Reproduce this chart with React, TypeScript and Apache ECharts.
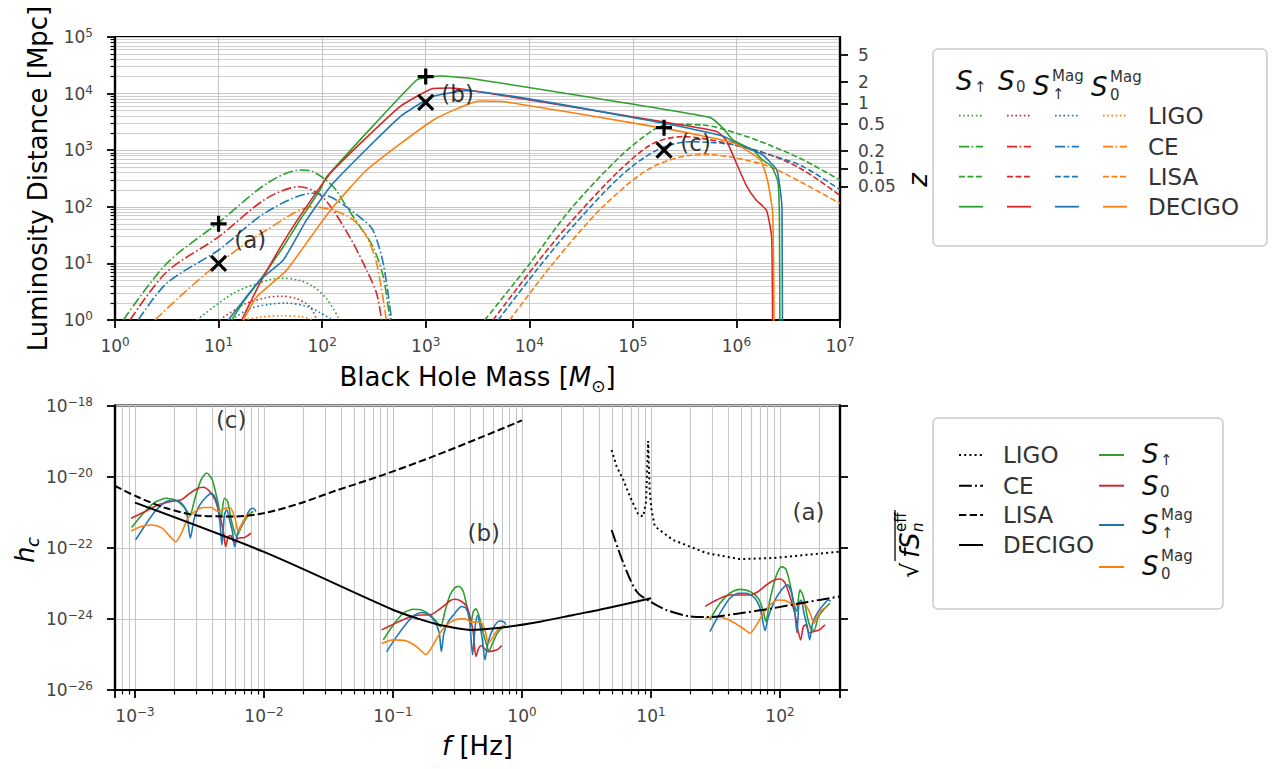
import React, { useEffect, useRef } from 'react';
import * as echarts from 'echarts';

const FONT = 'DejaVu Sans';
const TICK_COLOR = '#444';
const GREEN = '#2ca02c';
const RED = '#d62728';
const BLUE = '#1f77b4';
const ORANGE = '#ff7f0e';

// ===== Top panel data: [log10(M / Msun), log10(D_L / Mpc)] =====
const topLigoUp = [[0.79, 0], [1.14, 0.47], [1.4, 0.66], [1.59, 0.74], [1.78, 0.7], [1.915, 0.59], [2.05, 0.36], [2.17, 0]];
const topLigoZero = [[1.01, 0], [1.25, 0.28], [1.45, 0.39], [1.6, 0.42], [1.75, 0.38], [1.88, 0.24], [1.95, 0]];
const topLigoUpMag = [[1.126, 0], [1.3, 0.2], [1.5, 0.28], [1.65, 0.3], [1.85, 0.24], [1.98, 0.13], [2.1, 0]];
const topLigoZeroMag = [[1.24, 0], [1.4, 0.05], [1.6, 0.075], [1.8, 0.06], [1.915, 0]];

const topCeUp = [[0.08, 0], [0.5, 1.0], [1.0, 1.72], [1.464, 2.41], [1.786, 2.65], [1.915, 2.62], [2.107, 2.355], [2.236, 2.0], [2.365, 1.65], [2.49, 1.295], [2.59, 0.765], [2.654, 0]];
const topCeZero = [[0.145, 0], [0.5, 0.85], [1.0, 1.47], [1.464, 2.15], [1.786, 2.355], [1.979, 2.21], [2.107, 1.94], [2.3, 1.355], [2.43, 0.88], [2.526, 0.47], [2.574, 0]];
const topCeUpMag = [[0.225, 0], [0.5, 0.65], [1.0, 1.237], [1.464, 1.91], [1.915, 2.24], [2.107, 2.15], [2.397, 1.77], [2.49, 1.59], [2.59, 1.0], [2.67, 0]];
const topCeZeroMag = [[0.386, 0], [0.66, 0.47], [1.0, 1.0], [1.464, 1.59], [1.915, 2.0], [2.107, 1.94], [2.3, 1.77], [2.43, 1.47], [2.526, 1.0], [2.62, 0]];

const topLisaUp = [[3.57, 0], [4.006, 1.0], [4.39, 1.94], [4.875, 2.885], [5.196, 3.357], [5.357, 3.457], [5.68, 3.445], [6.0, 3.3], [6.32, 3.09], [6.644, 2.83], [7.0, 2.47]];
const topLisaZero = [[3.65, 0], [4.07, 1.0], [4.39, 1.71], [4.875, 2.65], [5.196, 3.12], [5.486, 3.24], [5.84, 3.15], [6.32, 2.92], [6.644, 2.65], [7.0, 2.2]];
const topLisaUpMag = [[3.7, 0], [4.07, 0.88], [4.39, 1.59], [4.875, 2.53], [5.23, 3.0], [5.55, 3.15], [6.0, 3.09], [6.32, 2.92], [6.644, 2.71], [7.0, 2.3]];
const topLisaZeroMag = [[3.81, 0], [4.23, 1.0], [4.71, 2.0], [5.196, 2.71], [5.68, 2.93], [6.0, 2.86], [6.32, 2.71], [6.644, 2.415], [7.0, 2.06]];

const topDecigoUp = [[1.126, 0], [1.25, 0.35], [1.4, 0.707], [1.625, 1.295], [1.786, 1.767], [1.979, 2.297], [2.043, 2.53], [2.912, 4.24], [3.07, 4.3], [3.14, 4.31], [3.427, 4.27], [5.743, 3.58], [5.87, 3.39], [5.965, 3.18], [6.16, 3.0], [6.25, 2.83], [6.34, 2.71], [6.4, 2.45], [6.415, 1.8], [6.42, -0.5]];
const topDecigoZero = [[1.223, 0], [1.4, 0.65], [1.657, 1.47], [1.915, 2.18], [2.107, 2.65], [2.751, 3.77], [3.07, 4.09], [3.23, 4.1], [3.43, 4.06], [5.29, 3.5], [5.81, 3.33], [5.9, 3.18], [6.0, 2.77], [6.1, 2.36], [6.19, 2.12], [6.29, 1.94], [6.34, 1.47], [6.35, -0.5]];
const topDecigoUpMag = [[1.094, 0], [1.4, 0.707], [1.625, 1.06], [1.85, 1.77], [2.107, 2.42], [2.751, 3.59], [3.07, 3.95], [3.39, 4.05], [5.29, 3.48], [5.87, 3.25], [6.0, 3.12], [6.25, 2.92], [6.39, 2.65], [6.43, 2.2], [6.44, 1.94], [6.445, -0.5]];
const topDecigoZeroMag = [[1.24, 0], [1.368, 0.41], [1.657, 0.88], [1.915, 1.53], [2.107, 2.0], [2.43, 2.65], [3.07, 3.53], [3.52, 3.87], [3.75, 3.86], [5.29, 3.39], [5.97, 3.13], [6.23, 2.83], [6.3, 2.47], [6.35, 1.89], [6.365, -0.5]];

// markers (M in Msun, D in Mpc)
const plusMass = [10, 1000, 2e5];
const plusDist = [50, 2e4, 2500];
const crossMass = [10, 1000, 2e5];
const crossDist = [10, 7000, 1000];
const topAnnotText = ['(a)', '(b)', '(c)'];
const topAnnotMass = [14, 1400, 2.84e5];
const topAnnotDist = [26, 1.0e4, 1340];

// redshift axis
const zTickLabels = ['5', '2', '1', '0.5', '0.2', '0.1', '0.05'];
const zTickDistMpc = [47800, 15900, 6700, 2900, 980, 475, 230];

// ===== Bottom panel data: [log10(f / Hz), log10(h)] =====
const noiseLisa = [[-3.155, -20.26], [-2.987, -20.56], [-2.755, -20.89], [-2.496, -21.1], [-2.238, -21.12], [-2.005, -21.03], [-1.72, -20.75], [-1.463, -20.42], [-1.075, -19.95], [-0.687, -19.43], [-0.3, -18.87], [0.0, -18.42]];
const noiseDecigo = [[-3.0, -20.73], [-2.005, -22.11], [-0.997, -23.75], [-0.8, -24.0], [-0.636, -24.17], [-0.4, -24.31], [-0.15, -24.24], [0.14, -24.08], [0.398, -23.89], [0.656, -23.7], [1.0, -23.42]];
const noiseCe = [[0.695, -21.5], [0.786, -22.43], [0.889, -23.23], [0.992, -23.51], [1.12, -23.75], [1.3, -23.93], [1.43, -23.95], [1.69, -23.84], [1.946, -23.7], [2.205, -23.53], [2.465, -23.37]];
const noiseLigo = [[0.695, -19.25], [0.734, -19.72], [0.786, -20.09], [0.837, -20.56], [0.902, -21.07], [0.94, -21.12], [0.962, -20.7], [0.978, -19.0], [0.99, -20.4], [1.005, -20.95], [1.03, -21.4], [1.17, -21.78], [1.43, -22.15], [1.69, -22.32], [1.946, -22.29], [2.205, -22.2], [2.465, -22.11]];

const waveCUp = [[-3.026, -21.43], [-2.935, -21.03], [-2.845, -20.72], [-2.755, -20.61], [-2.677, -20.68], [-2.612, -20.89], [-2.574, -21.08], [-2.535, -20.61], [-2.488, -20.09], [-2.444, -19.9], [-2.401, -20.09], [-2.359, -20.7], [-2.333, -21.17], [-2.307, -20.61], [-2.282, -20.7], [-2.251, -21.26], [-2.212, -21.68], [-2.173, -21.4], [-2.121, -21.08], [-2.083, -20.98]];
const waveCZero = [[-3.03, -21.17], [-2.92, -20.98], [-2.82, -20.79], [-2.72, -20.7], [-2.64, -20.65], [-2.59, -20.51], [-2.52, -20.34], [-2.47, -20.3], [-2.42, -20.42], [-2.38, -20.65], [-2.35, -20.98], [-2.315, -21.54], [-2.297, -21.97], [-2.276, -21.68], [-2.256, -21.66], [-2.233, -21.84], [-2.2, -21.73], [-2.15, -21.71], [-2.1, -21.59]];
const waveCUpMag = [[-2.995, -21.78], [-2.92, -21.36], [-2.845, -20.98], [-2.767, -20.72], [-2.703, -20.65], [-2.638, -20.75], [-2.599, -21.03], [-2.571, -21.73], [-2.54, -21.17], [-2.496, -20.79], [-2.444, -20.56], [-2.406, -20.47], [-2.367, -20.7], [-2.341, -21.31], [-2.326, -21.92], [-2.307, -21.08], [-2.289, -20.93], [-2.264, -21.26], [-2.245, -21.54], [-2.227, -21.97], [-2.199, -21.54], [-2.147, -21.17], [-2.109, -20.93], [-2.083, -20.89], [-2.062, -20.98]];
const waveCZeroMag = [[-3.03, -21.53], [-2.95, -21.4], [-2.87, -21.36], [-2.79, -21.45], [-2.73, -21.68], [-2.685, -21.83], [-2.64, -21.59], [-2.59, -21.17], [-2.535, -20.98], [-2.47, -20.87], [-2.41, -20.87], [-2.354, -20.98], [-2.302, -20.89], [-2.264, -20.87], [-2.225, -21.17], [-2.199, -21.54], [-2.173, -21.36], [-2.134, -21.09], [-2.096, -21.03]];

const waveBUp = [[-1.075, -24.59], [-0.997, -24.17], [-0.92, -23.84], [-0.842, -23.73], [-0.778, -23.75], [-0.713, -23.89], [-0.662, -24.08], [-0.631, -24.22], [-0.597, -23.79], [-0.558, -23.33], [-0.52, -23.12], [-0.486, -23.09], [-0.455, -23.23], [-0.424, -23.7], [-0.398, -24.17], [-0.377, -23.79], [-0.357, -23.72], [-0.331, -23.94], [-0.3, -24.4], [-0.274, -24.73], [-0.256, -24.9], [-0.228, -24.69], [-0.191, -24.4], [-0.158, -24.26], [-0.132, -24.19]];
const waveBZero = [[-1.088, -24.31], [-0.997, -24.15], [-0.894, -23.98], [-0.791, -23.89], [-0.713, -23.89], [-0.662, -23.79], [-0.61, -23.65], [-0.558, -23.49], [-0.52, -23.45], [-0.468, -23.51], [-0.429, -23.65], [-0.403, -23.94], [-0.377, -24.4], [-0.357, -25.06], [-0.336, -24.83], [-0.313, -24.75], [-0.287, -24.85], [-0.261, -24.92], [-0.222, -24.9], [-0.184, -24.85], [-0.158, -24.75]];
const waveBUpMag = [[-1.049, -24.92], [-0.972, -24.5], [-0.894, -24.12], [-0.83, -23.89], [-0.778, -23.82], [-0.726, -23.87], [-0.675, -24.08], [-0.641, -24.4], [-0.625, -24.92], [-0.605, -24.4], [-0.571, -24.08], [-0.52, -23.84], [-0.468, -23.65], [-0.434, -23.7], [-0.408, -23.98], [-0.393, -24.64], [-0.383, -25.01], [-0.364, -24.26], [-0.346, -23.91], [-0.326, -24.17], [-0.305, -24.64], [-0.287, -25.15], [-0.261, -24.64], [-0.222, -24.26], [-0.176, -24.06], [-0.14, -24.08], [-0.124, -24.17]];
const waveBZeroMag = [[-1.088, -24.69], [-0.997, -24.59], [-0.907, -24.61], [-0.817, -24.78], [-0.744, -25.0], [-0.688, -24.73], [-0.636, -24.4], [-0.584, -24.17], [-0.52, -24.03], [-0.442, -24.0], [-0.39, -24.09], [-0.326, -24.08], [-0.287, -24.31], [-0.261, -24.7], [-0.23, -24.54], [-0.196, -24.34], [-0.165, -24.24], [-0.14, -24.19]];

const waveAUp = [[1.457, -24.03], [1.535, -23.56], [1.612, -23.28], [1.69, -23.17], [1.767, -23.23], [1.832, -23.42], [1.871, -23.79], [1.891, -24.08], [1.922, -23.47], [1.969, -22.81], [2.013, -22.53], [2.046, -22.6], [2.077, -23.0], [2.108, -23.56], [2.129, -23.79], [2.155, -23.18], [2.181, -23.37], [2.212, -23.94], [2.238, -24.26], [2.264, -24.33], [2.297, -23.94], [2.341, -23.73], [2.388, -23.56]];
const waveAZero = [[1.419, -23.65], [1.509, -23.47], [1.612, -23.33], [1.69, -23.33], [1.767, -23.33], [1.832, -23.23], [1.897, -23.04], [1.961, -22.9], [2.005, -22.88], [2.041, -23.0], [2.077, -23.37], [2.114, -23.84], [2.14, -24.33], [2.16, -24.59], [2.181, -24.22], [2.201, -24.17], [2.227, -24.39], [2.258, -24.36], [2.305, -24.31], [2.349, -24.17]];
const waveAUpMag = [[1.457, -24.36], [1.535, -23.84], [1.612, -23.42], [1.677, -23.28], [1.742, -23.28], [1.806, -23.42], [1.85, -23.75], [1.884, -24.33], [1.91, -23.94], [1.961, -23.47], [2.013, -23.18], [2.057, -23.04], [2.09, -23.28], [2.116, -23.84], [2.132, -24.4], [2.147, -23.56], [2.165, -23.47], [2.186, -23.84], [2.212, -24.22], [2.23, -24.59], [2.253, -24.12], [2.297, -23.79], [2.336, -23.61], [2.375, -23.47], [2.393, -23.51]];
const waveAZeroMag = [[1.419, -23.98], [1.496, -23.94], [1.574, -23.98], [1.651, -24.12], [1.729, -24.31], [1.767, -24.4], [1.819, -24.17], [1.871, -23.84], [1.922, -23.61], [1.987, -23.47], [2.039, -23.48], [2.09, -23.58], [2.129, -23.61], [2.168, -23.56], [2.207, -23.65], [2.238, -23.89], [2.264, -24.12], [2.289, -23.94], [2.323, -23.75], [2.362, -23.67]];

const bottomAnnotText = ['(a)', '(b)', '(c)'];
const bottomAnnotFreq = [124, 0.375, 4.2e-3];
const bottomAnnotLogH = [-20.99, -21.58, -18.4];

const legendDetectors = ['LIGO', 'CE', 'LISA', 'DECIGO'];

// ===== helpers =====
const pow10 = (v: number) => Math.pow(10, v);
const bothLog = (pts: number[][]) => pts.map((p) => [pow10(p[0]), pow10(p[1])]);
const xLogOnly = (pts: number[][]) => pts.map((p) => [pow10(p[0]), p[1]]);

const DOT_C = [1.6, 2.6];
const DASHDOT_C = [10, 2.6, 1.6, 2.6];
const DASH_C = [5.9, 2.6];
const DOT_K = [2, 3.2];
const DASHDOT_K = [12.8, 3.2, 2, 3.2];
const DASH_K = [7.4, 3.2];

function lineSeries(data: number[][], xi: number, yi: number, color: string, type: any, width: number, smooth: number | boolean, z = 2) {
  return {
    type: 'line', xAxisIndex: xi, yAxisIndex: yi, data, symbol: 'none', showSymbol: false,
    smooth, lineStyle: { color, width, type }, z, silent: true, clip: true,
  };
}

function powLabel(v: number) {
  const e = Math.log10(v);
  const r = Math.round(e);
  if (Math.abs(e - r) > 1e-6) return '';
  return '{b|10}{s|' + (r < 0 ? '\u2212' + -r : String(r)) + '}';
}
function expLabel(v: number) {
  const r = Math.round(v);
  return '{b|10}{s|' + (r < 0 ? '\u2212' + -r : String(r)) + '}';
}

const tickRich = {
  b: { fontSize: 17, lineHeight: 20, fontFamily: FONT, color: TICK_COLOR, verticalAlign: 'middle' },
  s: { fontSize: 12, lineHeight: 20, fontFamily: FONT, color: TICK_COLOR, verticalAlign: 'top' },
};

const axisLineK = { show: true, lineStyle: { color: '#000', width: 2.2 } };
const majorTick = { show: true, length: 8, lineStyle: { color: '#000', width: 1.8 } };
const minorTickS = { show: true, splitNumber: 9, length: 4.5, lineStyle: { color: '#000', width: 1.2 } };
const gridLine = { show: true, lineStyle: { color: '#c6c6c6', width: 1.1 } };

function gText(x: number, y: number, text: string, size: number, o: any = {}) {
  const align = o.align ?? 'left';
  return {
    type: 'text', x, y, z: 100, silent: true,
    style: {
      text, fontSize: size, fontFamily: FONT,
      fontStyle: o.italic ? 'italic' : 'normal',
      fill: o.fill ?? '#000',
      textAlign: align, align,
      textVerticalAlign: 'middle', verticalAlign: 'middle',
    },
  };
}
function gLine(x1: number, x2: number, y: number, color: string, dash: number[] | null, w = 2) {
  return {
    type: 'line', z: 100, silent: true,
    shape: { x1, y1: y, x2, y2: y },
    style: { stroke: color, lineWidth: w, lineDash: dash || undefined },
  };
}
function sLabel(x: number, cy: number, sub: string, mag: boolean) {
  const out: any[] = [gText(x, cy, 'S', 26, { italic: true, fill: '#111' })];
  if (mag) {
    out.push(gText(x + 19, cy - 10, 'Mag', 15, { fill: '#333' }));
    out.push(gText(x + 19, cy + 8, sub, 15, { fill: '#333' }));
  } else {
    out.push(gText(x + 18, cy + 6, sub, 15, { fill: '#333' }));
  }
  return out;
}

function buildOption() {
  const top: any[] = [];
  const topSets: [number[][], string, any][] = [
    [topLigoUp, GREEN, DOT_C], [topLigoZero, RED, DOT_C], [topLigoUpMag, BLUE, DOT_C], [topLigoZeroMag, ORANGE, DOT_C],
    [topCeUp, GREEN, DASHDOT_C], [topCeZero, RED, DASHDOT_C], [topCeUpMag, BLUE, DASHDOT_C], [topCeZeroMag, ORANGE, DASHDOT_C],
    [topLisaUp, GREEN, DASH_C], [topLisaZero, RED, DASH_C], [topLisaUpMag, BLUE, DASH_C], [topLisaZeroMag, ORANGE, DASH_C],
  ];
  topSets.forEach(([d, c, t]) => top.push(lineSeries(bothLog(d), 0, 0, c, t, 1.6, 0.3)));
  [[topDecigoUp, GREEN], [topDecigoZero, RED], [topDecigoUpMag, BLUE], [topDecigoZeroMag, ORANGE]].forEach(([d, c]: any) =>
    top.push(lineSeries(bothLog(d), 0, 0, c, 'solid', 1.6, 0.15)));

  top.push({
    type: 'scatter', xAxisIndex: 0, yAxisIndex: 0, z: 6, silent: true,
    symbol: 'path://M0,-10L0,10M-10,0L10,0', symbolSize: 16,
    itemStyle: { color: '#000', borderColor: '#000', borderWidth: 3.2, opacity: 1 },
    data: plusMass.map((m, i) => [m, plusDist[i]]),
  });
  top.push({
    type: 'scatter', xAxisIndex: 0, yAxisIndex: 0, z: 6, silent: true,
    symbol: 'path://M-10,-10L10,10M-10,10L10,-10', symbolSize: 15,
    itemStyle: { color: '#000', borderColor: '#000', borderWidth: 3.2, opacity: 1 },
    data: crossMass.map((m, i) => [m, crossDist[i]]),
  });
  top.push({
    type: 'scatter', xAxisIndex: 0, yAxisIndex: 0, z: 7, silent: true, symbolSize: 1,
    itemStyle: { color: 'rgba(0,0,0,0)' },
    label: { show: true, position: 'right', distance: 0, formatter: '{b}', fontSize: 23, fontFamily: FONT, color: '#000', align: 'left', verticalAlign: 'middle' },
    data: topAnnotText.map((t, i) => ({ name: t, value: [topAnnotMass[i], topAnnotDist[i]] })),
  });

  const bot: any[] = [];
  const waveSets: [number[][], string][] = [
    [waveCUp, GREEN], [waveCZero, RED], [waveCUpMag, BLUE], [waveCZeroMag, ORANGE],
    [waveBUp, GREEN], [waveBZero, RED], [waveBUpMag, BLUE], [waveBZeroMag, ORANGE],
    [waveAUp, GREEN], [waveAZero, RED], [waveAUpMag, BLUE], [waveAZeroMag, ORANGE],
  ];
  waveSets.forEach(([d, c]) => bot.push(lineSeries(xLogOnly(d), 1, 2, c, 'solid', 1.6, 0.25, 2)));
  bot.push(lineSeries(xLogOnly(noiseLigo), 1, 2, '#000', DOT_K, 2, false, 4));
  bot.push(lineSeries(xLogOnly(noiseCe), 1, 2, '#000', DASHDOT_K, 2, 0.3, 4));
  bot.push(lineSeries(xLogOnly(noiseLisa), 1, 2, '#000', DASH_K, 2, 0.3, 4));
  bot.push(lineSeries(xLogOnly(noiseDecigo), 1, 2, '#000', 'solid', 2, 0.3, 4));
  bot.push({
    type: 'scatter', xAxisIndex: 1, yAxisIndex: 2, z: 7, silent: true, symbolSize: 1,
    itemStyle: { color: 'rgba(0,0,0,0)' },
    label: { show: true, position: 'right', distance: 0, formatter: '{b}', fontSize: 23, fontFamily: FONT, color: '#000', align: 'left', verticalAlign: 'middle' },
    data: bottomAnnotText.map((t, i) => ({ name: t, value: [bottomAnnotFreq[i], bottomAnnotLogH[i]] })),
  });

  const zLog = zTickDistMpc.map((d) => Math.log10(d));

  // ---- graphics: legends and special axis titles
  const g: any[] = [];
  // top legend
  g.push({ type: 'rect', z: 99, silent: true, shape: { x: 933, y: 49, width: 334, height: 197, r: 5 }, style: { fill: '#fff', stroke: '#cccccc', lineWidth: 1.6 } });
  g.push(...sLabel(956, 81, '\u2191', false));
  g.push(...sLabel(998, 81, '0', false));
  g.push(...sLabel(1033, 86, '\u2191', true));
  g.push(...sLabel(1091, 87, '0', true));
  const topRowsY = [115.7, 146.7, 176.7, 206.7];
  const topDash = [DOT_C, DASHDOT_C, DASH_C, null];
  const colXs = [959, 1007, 1055, 1103];
  const cols = [GREEN, RED, BLUE, ORANGE];
  topRowsY.forEach((y, r) => {
    colXs.forEach((x, c) => g.push(gLine(x, x + 24, y, cols[c], topDash[r], 1.8)));
    g.push(gText(1148, y, legendDetectors[r], 23, { fill: '#333' }));
  });
  // bottom legend
  g.push({ type: 'rect', z: 99, silent: true, shape: { x: 933, y: 418, width: 290, height: 191, r: 5 }, style: { fill: '#fff', stroke: '#cccccc', lineWidth: 1.6 } });
  const botRowsY = [455, 485.7, 515, 545];
  const botDash = [DOT_K, DASHDOT_K, DASH_K, null];
  botRowsY.forEach((y, r) => {
    g.push(gLine(959, 983, y, '#000', botDash[r], 2));
    g.push(gText(1003, y, legendDetectors[r], 23, { fill: '#333' }));
  });
  const colRowsY = [455, 485.7, 525, 567];
  colRowsY.forEach((y, i) => g.push(gLine(1099, 1124, y, cols[i], null, 2)));
  g.push(...sLabel(1142, 454, '\u2191', false));
  g.push(...sLabel(1142, 486, '0', false));
  g.push(...sLabel(1142, 525, '\u2191', true));
  g.push(...sLabel(1142, 566, '0', true));

  // right axis title z
  g.push({ type: 'text', x: 918, y: 180, rotation: Math.PI / 2, z: 100, silent: true,
    style: { text: 'z', fontSize: 26, fontStyle: 'italic', fontFamily: FONT, fill: '#000', textAlign: 'center', align: 'center', textVerticalAlign: 'middle', verticalAlign: 'middle' } });
  // left bottom title h_c
  g.push({ type: 'group', x: 25, y: 563, rotation: Math.PI / 2, children: [
    gText(0, 0, 'h', 26, { italic: true }),
    gText(16, 7, 'c', 18, { italic: true }),
  ] });
  // right bottom title sqrt(f S_n^eff)
  g.push({ type: 'group', x: 910, y: 578, rotation: Math.PI / 2, children: [
    gText(0, 0, '\u221a', 24, {}),
    { type: 'line', silent: true, z: 100, shape: { x1: 17, y1: -15, x2: 68, y2: -15 }, style: { stroke: '#000', lineWidth: 1.3 } },
    gText(20, 0, 'f', 26, { italic: true }),
    gText(29, 0, 'S', 26, { italic: true }),
    gText(46, -9, 'eff', 15, {}),
    gText(46, 8, 'n', 15, { italic: true }),
  ] });

  return {
    animation: false,
    backgroundColor: '#fff',
    textStyle: { fontFamily: FONT },
    grid: [
      { left: 115, top: 37, width: 725, height: 283, show: true, borderColor: '#000', borderWidth: 2.2, backgroundColor: 'transparent', containLabel: false, outerBoundsMode: 'none' },
      { left: 115, top: 405.5, width: 725, height: 284.5, show: true, borderColor: '#000', borderWidth: 2.2, backgroundColor: 'transparent', containLabel: false, outerBoundsMode: 'none' },
    ],
    xAxis: [
      {
        type: 'log', gridIndex: 0, min: 1, max: 1e7, splitNumber: 7, logBase: 10,
        name: 'Black Hole Mass [{it|M}{sub|\u2299}]', nameLocation: 'middle', nameGap: 40,
        nameTextStyle: { fontSize: 26, fontFamily: FONT, color: '#000', lineHeight: 34,
          rich: { it: { fontSize: 26, fontStyle: 'italic', fontFamily: FONT, color: '#000', lineHeight: 34 }, sub: { fontSize: 17, fontFamily: FONT, color: '#000', lineHeight: 34, verticalAlign: 'bottom' } } },
        axisLine: axisLineK, axisTick: majorTick, minorTick: { show: false },
        axisLabel: { formatter: powLabel, margin: 16, rich: tickRich },
        splitLine: gridLine, minorSplitLine: { show: false },
      },
      {
        type: 'log', gridIndex: 1, min: 7e-4, max: 292, splitNumber: 6, logBase: 10,
        name: '{it|f} [Hz]', nameLocation: 'middle', nameGap: 39,
        nameTextStyle: { fontSize: 26, fontFamily: FONT, color: '#000', lineHeight: 34,
          rich: { it: { fontSize: 26, fontStyle: 'italic', fontFamily: FONT, color: '#000', lineHeight: 34 } } },
        axisLine: axisLineK, axisTick: majorTick, minorTick: minorTickS,
        axisLabel: { formatter: powLabel, margin: 16, rich: tickRich, showMinLabel: true, showMaxLabel: true },
        splitLine: gridLine, minorSplitLine: { show: true, lineStyle: { color: '#c6c6c6', width: 1.1 } },
      },
    ],
    yAxis: [
      {
        type: 'log', gridIndex: 0, min: 1, max: 1e5, splitNumber: 5, logBase: 10, position: 'left',
        name: 'Luminosity Distance [Mpc]', nameLocation: 'middle', nameGap: 57,
        nameTextStyle: { fontSize: 26, fontFamily: FONT, color: '#000', lineHeight: 30 },
        axisLine: axisLineK, axisTick: majorTick, minorTick: minorTickS,
        axisLabel: { formatter: powLabel, margin: 22, rich: tickRich },
        splitLine: gridLine, minorSplitLine: { show: true, lineStyle: { color: '#cfcfcf', width: 1.0 } },
      },
      {
        type: 'value', gridIndex: 0, min: 0, max: 5, position: 'right',
        axisLine: axisLineK,
        axisTick: { show: true, length: 8, lineStyle: { color: '#000', width: 1.8 }, customValues: zLog },
        axisLabel: {
          customValues: zLog, margin: 18, fontSize: 17, fontFamily: FONT, color: TICK_COLOR,
          formatter: (v: number) => {
            let best = 0;
            zLog.forEach((z, i) => { if (Math.abs(z - v) < Math.abs(zLog[best] - v)) best = i; });
            return zTickLabels[best];
          },
        },
        splitLine: { show: false }, minorTick: { show: false },
      },
      {
        type: 'value', gridIndex: 1, min: -26, max: -18, interval: 2, position: 'left',
        axisLine: axisLineK, axisTick: majorTick,
        axisLabel: { formatter: expLabel, margin: 22, rich: tickRich },
        splitLine: gridLine,
      },
      {
        type: 'value', gridIndex: 1, min: -26, max: -18, interval: 2, position: 'right',
        axisLine: axisLineK, axisTick: majorTick,
        axisLabel: { show: false },
        splitLine: { show: false },
      },
    ],
    series: [...top, ...bot],
    graphic: { elements: g },
  };
}

export default function App() {
  const ref = useRef<HTMLDivElement>(null);
  useEffect(() => {
    if (!ref.current) return;
    const chart = echarts.init(ref.current, null, { renderer: 'svg' });
    chart.setOption(buildOption() as any);
    return () => chart.dispose();
  }, []);
  return <div ref={ref} style={{ position: 'fixed', left: 0, top: 0, width: 1279, height: 769, background: '#fff' }} />;
}
